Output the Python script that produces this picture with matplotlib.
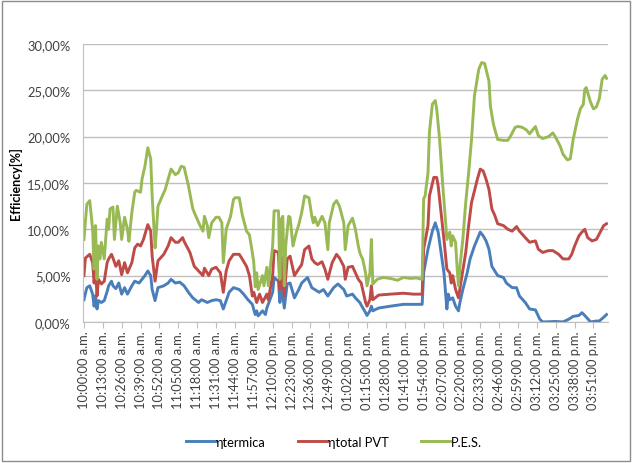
import matplotlib
matplotlib.use("Agg")
import matplotlib.pyplot as plt
from matplotlib.patches import Rectangle
from matplotlib.ticker import FuncFormatter

plt.rcParams['font.family'] = ['Lato', 'DejaVu Sans']

# minutes after 10:00 a.m. and efficiency values [%]
t_termica = [0, 2, 4, 6, 7, 8, 9, 10, 12, 14, 16, 17, 19, 20, 22, 24, 26, 28, 30, 33,
             35, 38, 42, 44, 46, 47, 49, 51, 55, 58, 60, 63, 66, 69, 72, 75, 79, 81, 85, 88,
             91, 94, 96, 100, 103, 107, 110, 113, 116, 118, 119, 120, 123, 125, 126, 130, 131, 134, 135, 136,
             138, 140, 142, 145, 148, 150, 154, 157, 159, 162, 165, 168, 172, 175, 179, 181, 185, 187, 190, 194,
             195, 197, 198, 199, 203, 211, 220, 233, 234, 237, 240, 242, 244, 246, 248, 250, 251, 252, 254, 256,
             258, 259, 261, 264, 266, 269, 273, 275, 277, 279, 281, 283, 285, 289, 291, 295, 298, 300, 304, 307,
             311, 314, 316, 325, 330, 334, 337, 341, 343, 345, 349, 353, 355, 358, 360]
termica = [2.4, 3.7, 3.9, 3.0, 1.7, 2.8, 1.4, 2.3, 2.1, 2.3, 3.3, 3.9, 4.4, 3.9, 3.6, 4.2, 3.0, 3.7, 3.0, 3.9,
           4.4, 4.2, 5.0, 5.5, 5.0, 3.5, 2.3, 3.7, 3.9, 4.2, 4.6, 4.2, 4.3, 3.9, 3.2, 2.6, 2.1, 2.4, 2.1, 2.3,
           2.4, 2.3, 1.4, 3.2, 3.7, 3.5, 3.0, 2.4, 1.9, 0.8, 1.2, 0.65, 1.2, 0.8, 1.5, 3.2, 4.8, 4.4, 2.1, 4.2,
           1.5, 4.1, 4.2, 2.6, 3.5, 4.2, 4.8, 3.7, 3.5, 3.2, 3.5, 2.8, 3.7, 4.1, 3.5, 2.8, 3.0, 2.6, 2.1, 1.0,
           0.7, 1.2, 1.7, 1.2, 1.5, 1.7, 1.9, 1.9, 5.3, 7.85, 9.8, 10.7, 9.7, 7.5, 5.3, 1.4, 3.0, 2.4, 2.6, 1.7,
           1.2, 2.1, 3.5, 5.3, 6.8, 8.2, 9.7, 9.3, 8.75, 7.85, 6.0, 5.5, 5.0, 4.8, 4.2, 3.7, 3.7, 2.8, 2.1, 1.4,
           1.3, 0.3, 0.0, 0.05, 0.0, 0.3, 0.6, 0.7, 1.0, 0.7, 0.0, 0.1, 0.1, 0.5, 0.8]

t_total = [0, 1, 4, 6, 7, 8, 9, 10, 12, 14, 16, 17, 19, 20, 22, 24, 26, 28, 30, 33,
           35, 37, 39, 41, 44, 46, 47, 49, 51, 55, 58, 60, 63, 65, 68, 69, 73, 76, 79, 82,
           83, 86, 88, 91, 94, 96, 98, 100, 103, 107, 109, 112, 114, 116, 117, 119, 121, 123, 126, 127,
           130, 131, 134, 135, 136, 138, 140, 142, 145, 147, 150, 152, 155, 157, 159, 161, 164, 166, 168, 171,
           174, 176, 179, 180, 182, 185, 187, 189, 191, 194, 195, 197, 198, 199, 203, 211, 220, 227, 233, 234,
           237, 238, 241, 243, 244, 246, 248, 250, 252, 253, 254, 256, 258, 260, 263, 265, 267, 271, 273, 275,
           277, 279, 281, 283, 285, 289, 292, 295, 298, 300, 304, 307, 311, 313, 316, 320, 323, 327, 330, 334,
           336, 338, 341, 343, 345, 347, 350, 353, 355, 358, 360]
total = [5.0, 6.9, 7.3, 6.4, 4.2, 5.7, 2.8, 4.6, 4.1, 4.4, 6.4, 6.8, 7.3, 6.9, 6.0, 6.6, 5.1, 6.4, 5.3, 6.4,
         8.0, 8.4, 8.2, 8.9, 10.5, 9.8, 7.1, 4.4, 6.6, 7.3, 8.2, 9.1, 8.6, 8.6, 9.1, 8.7, 7.5, 6.0, 5.5, 5.0,
         5.8, 5.0, 5.7, 5.9, 5.3, 3.2, 5.5, 6.6, 7.3, 7.3, 6.8, 6.0, 5.0, 2.8, 3.2, 2.1, 3.0, 2.1, 3.0, 2.4,
         5.0, 7.7, 7.5, 3.5, 7.1, 2.8, 6.8, 7.1, 5.0, 5.5, 6.2, 7.8, 8.2, 6.8, 6.4, 6.2, 6.5, 5.7, 4.6, 6.4,
         7.3, 6.9, 6.0, 4.6, 5.9, 6.0, 5.3, 4.6, 4.2, 2.1, 1.7, 2.4, 3.9, 2.4, 2.9, 3.0, 3.1, 3.0, 3.0, 7.85,
         10.4, 13.6, 15.6, 15.6, 14.7, 11.8, 8.9, 5.7, 5.3, 4.2, 5.0, 3.5, 2.6, 4.6, 7.5, 10.4, 12.9, 15.4, 16.5, 16.3,
         15.4, 14.3, 12.2, 11.5, 10.6, 10.4, 10.0, 9.8, 10.3, 9.8, 9.1, 8.6, 8.75, 7.85, 7.5, 7.7, 7.7, 7.3, 6.8, 6.8,
         7.3, 8.2, 9.3, 9.7, 10.0, 9.1, 8.75, 8.9, 9.5, 10.4, 10.6]

t_pes = [0, 2, 4, 6, 7, 8, 9, 10, 11, 12, 14, 16, 17, 18, 20, 21, 23, 25, 26, 28,
         30, 31, 33, 35, 36, 39, 40, 42, 44, 46, 47, 49, 50, 51, 54, 56, 58, 60, 63, 65,
         67, 69, 72, 75, 78, 80, 82, 83, 85, 86, 88, 91, 93, 95, 96, 98, 101, 103, 104, 107,
         109, 112, 114, 116, 117, 118, 119, 120, 123, 124, 126, 127, 130, 131, 134, 135, 136, 137, 138, 139,
         141, 142, 144, 146, 148, 150, 152, 155, 157, 158, 159, 161, 164, 166, 168, 169, 172, 174, 176, 179,
         180, 182, 185, 187, 189, 190, 191, 192, 194, 195, 197, 198, 199, 202, 206, 211, 216, 220, 225, 229,
         233, 234, 235, 237, 238, 240, 242, 243, 245, 247, 249, 250, 252, 253, 254, 256, 257, 258, 259, 261,
         263, 265, 267, 269, 272, 274, 276, 279, 280, 282, 283, 285, 289, 292, 294, 297, 299, 302, 305, 307,
         311, 313, 316, 320, 323, 325, 328, 330, 333, 335, 337, 340, 342, 344, 345, 346, 349, 351, 353, 355,
         357, 359, 360]
pes = [8.9, 12.7, 13.1, 10.0, 5.7, 10.4, 4.6, 8.2, 6.8, 8.6, 6.8, 11.1, 10.0, 12.2, 12.4, 8.9, 12.5, 10.7, 8.9, 11.3,
       10.0, 8.7, 11.8, 14.0, 14.2, 14.0, 15.4, 16.8, 18.8, 17.6, 13.6, 8.0, 10.0, 12.5, 13.6, 14.3, 15.4, 16.5, 15.9, 16.1,
       16.8, 16.7, 14.7, 12.2, 11.1, 10.4, 9.8, 11.4, 10.4, 9.1, 10.7, 11.3, 11.3, 10.7, 6.4, 10.0, 11.4, 13.2, 13.4, 13.4,
       11.6, 9.8, 9.4, 7.5, 6.4, 3.8, 5.3, 3.5, 5.0, 3.9, 5.9, 3.9, 8.2, 12.0, 12.0, 4.6, 11.1, 11.4, 3.9, 8.2,
       11.4, 11.3, 8.2, 9.5, 10.5, 11.8, 13.6, 13.4, 11.4, 10.7, 11.3, 10.4, 11.4, 10.7, 7.8, 10.7, 12.7, 13.1, 12.5, 10.7,
       7.8, 10.4, 11.2, 10.0, 8.2, 7.5, 7.1, 6.8, 5.3, 3.9, 5.3, 8.9, 4.1, 4.6, 4.8, 4.7, 4.5, 4.8, 4.7, 4.75,
       4.6, 13.3, 13.6, 16.1, 20.5, 23.5, 23.9, 23.0, 19.7, 15.1, 11.1, 8.9, 9.7, 8.2, 9.3, 8.6, 6.0, 3.9, 6.0, 8.9,
       12.9, 16.1, 19.7, 24.4, 27.3, 28.0, 27.9, 26.0, 23.3, 21.4, 20.8, 19.7, 19.6, 19.6, 20.1, 21.0, 21.1, 21.0, 20.7, 20.3,
       21.1, 20.1, 19.8, 20.0, 20.4, 19.9, 19.0, 18.1, 17.5, 17.6, 19.7, 21.9, 23.0, 23.5, 25.1, 25.3, 23.7, 23.0, 23.2, 24.1,
       26.2, 26.6, 26.3]

tick_pos = list(range(0, 352, 13))
tick_labels = ["10:00:00 a.m.", "10:13:00 a.m.", "10:26:00 a.m.", "10:39:00 a.m.", "10:52:00 a.m.",
               "11:05:00 a.m.", "11:18:00 a.m.", "11:31:00 a.m.", "11:44:00 a.m.", "11:57:00 a.m.",
               "12:10:00 p.m.", "12:23:00 p.m.", "12:36:00 p.m.", "12:49:00 p.m.", "01:02:00 p.m.",
               "01:15:00 p.m.", "01:28:00 p.m.", "01:41:00 p.m.", "01:54:00 p.m.", "02:07:00 p.m.",
               "02:20:00 p.m.", "02:33:00 p.m.", "02:46:00 p.m.", "02:59:00 p.m.", "03:12:00 p.m.",
               "03:25:00 p.m.", "03:38:00 p.m.", "03:51:00 p.m."]

fs = 9.3

fig = plt.figure(figsize=(6.34, 4.64), dpi=100)
ax = fig.add_axes([0.131, 0.304, 0.828, 0.599])

ax.plot(t_termica, termica, color="#4A7EBB", lw=2.1, label="ηtermica")
ax.plot(t_total, total, color="#BE4B48", lw=2.1, label="ηtotal PVT")
ax.plot(t_pes, pes, color="#98B954", lw=2.1, label="P.E.S.")

ax.set_ylim(0, 30)
ax.set_yticks(range(0, 31, 5))
ax.yaxis.set_major_formatter(FuncFormatter(lambda v, p: f"{v:.2f}%".replace(".", ",")))
ax.set_xlim(-0.6, 361)
ax.set_xticks(tick_pos)
ax.set_xticklabels(tick_labels, rotation=90)

ax.grid(axis="y", color="#BFBFBF", lw=1)
ax.set_axisbelow(True)
for s in ["top", "right"]:
    ax.spines[s].set_visible(False)
ax.spines["left"].set_color("#BFBFBF")
ax.spines["bottom"].set_color("#BFBFBF")
ax.tick_params(axis="y", length=0, pad=9, labelsize=fs, colors="#404040")
ax.tick_params(axis="x", length=4, color="#BFBFBF", pad=2, labelsize=fs, labelcolor="#404040")
ax.set_ylabel("Efficiency[%]", fontsize=9, fontweight="bold", labelpad=4)

fig.legend(loc="center", bbox_to_anchor=(0.527, 0.046), ncol=3, frameon=False,
           fontsize=fs, handlelength=2.25, columnspacing=2.5, handletextpad=0.05)

fig.patches.append(Rectangle((0.003, 0.004), 0.991, 0.992, transform=fig.transFigure,
                             fill=False, edgecolor="#8C8C8C", lw=1))

fig.savefig("out.png", dpi=100)
